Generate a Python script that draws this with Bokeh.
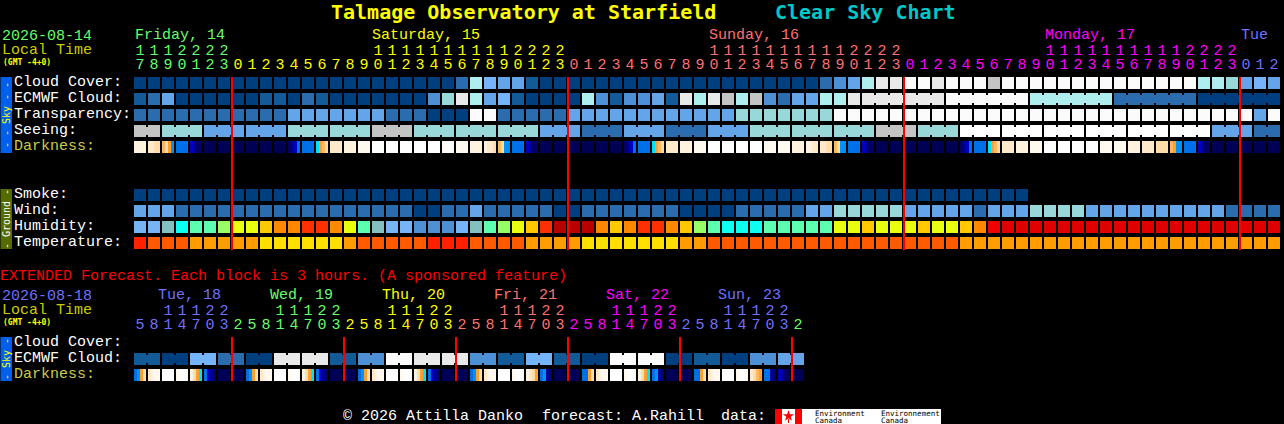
from bokeh.plotting import figure
from bokeh.models import ColumnDataSource, Range1d
from bokeh.core.properties import value
from bokeh.embed import file_html
from bokeh.resources import INLINE
import math

# ---------- data ----------
TITLE = "Talmage Observatory at Starfield"
SUBTITLE = "Clear Sky Chart"
HOURS_START = [17, 0, 0, 0, 0]
HOURS_COUNT = [7, 24, 24, 24, 3]
DAY_NAMES = ["Friday, 14", "Saturday, 15", "Sunday, 16", "Monday, 17", "Tue"]
DAY_NAME_COLS = [0, 17, 41, 65, 79]

EXT_DAY_NAMES = ["Tue, 18", "Wed, 19", "Thu, 20", "Fri, 21", "Sat, 22", "Sun, 23"]
EXT_HOURS = [5, 8, 11, 14, 17, 20, 23,
             2, 5, 8, 11, 14, 17, 20, 23,
             2, 5, 8, 11, 14, 17, 20, 23,
             2, 5, 8, 11, 14, 17, 20, 23,
             2, 5, 8, 11, 14, 17, 20, 23,
             2, 5, 8, 11, 14, 17, 20, 23,
             2]
EXT_DAY_OF_COL = [0]*7 + [1]*8 + [2]*8 + [3]*8 + [4]*8 + [5]*8 + [6]

cloud_cover = [0,0,0,0,0,0,0,0,0,0,0,0,0,0,0,0,0,0,0,0,0,0,0,2,7,5,4,4,1,0,0,0,0,0,0,0,0,0,0,0,0,
               0,0,0,0,0,0,0,0,2,3,4,7,9,9,10,10,9,10,10,10,8,10,10,10,10,10,10,10,10,10,10,10,10,10,10,7,7,6,4,5,4]
ecmwf_cloud = [1,2,4,0,0,0,0,0,0,1,1,0,2,1,0,0,0,0,0,0,0,3,6,9,7,4,5,1,0,0,0,0,7,3,1,3,3,4,1,9,7,
               9,8,7,8,3,2,4,4,7,7,9,9,9,9,9,9,9,10,10,10,10,10,10,7,7,7,7,7,7,2,2,2,2,2,2,0,0,0,0,0,0]
ecmwf_bridged_from = [52]
ecmwf_group_len = [6]
transparency = [2,2,2,2,2,2,2,2,2,2,2,4,4,4,4,4,4,4,2,2,2,0,0,0,10,10,2,2,2,2,2,4,4,4,4,4,4,4,4,4,4,
                4,4,6,6,6,6,6,6,6,10,10,10,10,10,10,10,10,10,10,10,10,10,10,10,10,10,10,10,10,10,10,10,10,10,10,10,10,10,10,4,10]
seeing_group_lengths = [2,3,3,3,3,3,3,3,3,3,3,3,3,3,3,3,3,3,3,3,3,3,3,3,3,3,3,2]
seeing_group_levels = [8,6,4,4,6,6,8,6,6,6,4,2,4,2,4,6,6,6,8,6,10,10,10,10,10,10,4,2]
darkness = ["bbbb","ccdd","edfB","LLLL","MNDD","KKKK","KKKK","KKKK","KKKK","KKKK","KKKK","DNML","LLLL","Cfed",
            "cccc","bbbb","aaaa","WWWW","WWWW","WWWW","WWWW","WWWW","aWWa","aaaa","bbbb","bccd","edBB","LLLL",
            "MNDD","KKKK","KKKK","KKKK","KKKK","KKKK","KKKK","DNML","LLLL","Cfed","cccc","bbbb","aaaa","WWWW",
            "WWWW","WWWW","WWWW","aaaa","aaaa","bbbb","bbcc","ccdd","edBB","LLLL","MNDD","KKKK","KKKK","KKKK",
            "KKKK","KKKK","KKKK","DNML","LLLL","Cfed","cccc","bbbb","aaaa","WWWW","WWWW","WWWW","WWWW","aaaa",
            "aaaa","bbbb","cccc","dddd","efBB","LLLL","MNDD","KKKK","KKKK","KKKK","KKKK","KKKK"]
smoke = [0,0,0,0,0,0,0,0,0,0,0,0,0,0,0,0,0,0,0,0,0,0,0,0,0,0,0,0,0,0,0,0,
         0,0,0,0,0,0,0,0,0,0,0,0,0,0,0,0,0,0,0,0,0,0,0,0,0,0,0,0,0,0,0,0]
wind = [4,4,4,2,2,2,2,2,2,2,2,2,2,2,2,2,2,2,2,2,0,0,2,2,4,2,2,2,2,2,0,0,2,2,2,2,2,2,2,0,0,
        0,0,2,2,2,2,2,4,4,6,6,6,6,6,4,4,4,4,4,2,4,4,4,6,6,6,6,4,4,4,4,4,4,4,4,4,4,2,2,2,2]
humidity = ["h1","h1","h2","h3","h4","h4","h5","h6","h6","h7","h8","h8","h9","h9","h8","h6","h4","h2","h1","h1",
            "h0","h0","h0","h1","h2","h4","h5","h6","h7","h9","hB","hB","hB","h8","h7","h8","h9","h9","h8","h7",
            "h5","h4","h3","h3","h3","h4","h4","h4","h4","h4","h6","h6","h7","h6","h6","h6","h7","h6","h6","h7",
            "h8","hA","hC","hC","hC","hC","hC","hC","hC","hC","hC","hC","hC","hC","hC","hC","hC","hC","hC","hC","hC","hC"]
temperature = ["t0","t1","t1","t1","t2","t2","t2","t2","t2","t3","t3","t3","t3","t3","t3","t2","t1","t1","t1","t1","t1",
               "t0","t0","t0","t1","t1","t1","t1","t2","t2","t2","t2","t3","t3","t3","t3","t3","t3","t3","t2","t2",
               "t1","t1","t1","t1","t1","t1","t1","t1","t1","t1","t1","t1","t1","t1","t1","t1","t1","t1","t2","t2",
               "t2","t2","t2","t2","t2","t2","t2","t2","t2","t2","t2","t2","t2","t2","t2","t2","t2","t2","t2","t2","t2"]
ext_ecmwf_pairs = [1,0,5,2,0,9,9,1,3,10,9,9,3,1,5,1,0,10,10,0,1,0,3,4]
ext_darkness = ["LBfd","cbaa","WWWW","aWWa","bdfC","LMND","KKKK","KKKK",
                "LBfd","cbaa","WWWW","aWWa","bdfC","LMND","KKKK","DKKK",
                "LBfd","cbaa","WWWW","aWWa","bdfC","LMND","KKKK","KKKK",
                "LBfd","cbaa","WWWW","aWWa","bcdf","LBND","KKKK","KKKK",
                "LLfd","cbaa","WWWW","aWWa","bdfC","LBND","KKKK","KKKK",
                "LLfd","cbaa","WWWW","aWWa","cdef","LLND","MNDK","KKKK"]

# ---------- styles ----------
CLOUD = {0:"#003f7f",1:"#135a98",2:"#2b6cae",3:"#4d90d5",4:"#63a5e8",5:"#76b4fa",6:"#98d8d8",
         7:"#aeeeee",8:"#c4c4c4",9:"#e9e9e9",10:"#fbfbfb"}
DARK = {"W":"#ffffff","a":"#fff9ef","b":"#fff2de","c":"#ffe9ca","d":"#ffdca8","e":"#ffb860","f":"#ff9f30",
        "C":"#00e0ff","B":"#0092f4","L":"#0070e8","M":"#0000c4","N":"#000096","D":"#000068","K":"#000054"}
HUM = {"h0":"#4f90d5","h1":"#76b4f5","h2":"#85c0c0","h3":"#0cfff0","h4":"#5cffb0","h5":"#99ff66","h6":"#e8ff10",
       "h7":"#ffc800","h8":"#ff8800","h9":"#ff3000","hA":"#f00000","hB":"#b80000","hC":"#e00000"}
TEMP = {"t0":"#ff2000","t1":"#ff5a00","t2":"#ff9c00","t3":"#ffdf00"}
DAY_COL = ["#66ff66", "#ffff00", "#ff7070", "#ff00ff", "#7070ff"]
EXT_DAY_COL = ["#7070ff", "#66ff66", "#ffff00", "#ff7070", "#ff00ff", "#7070ff", "#66ff66"]
LT = "#cccc00"
MONO = "DejaVu Sans Mono"
BODY = "Liberation Mono"

X0, PITCH, BLOCK = 134, 14, 12
W, H = 1284, 424
TOPS = {"cloud":77,"ecmwf":93,"trans":109,"seeing":125,"dark":141,"smoke":189,"wind":205,"hum":221,"temp":237,
        "xcloud":337,"xecmwf":353,"xdark":369}

# half-pixel offset of the range cancels the half-pixel translate of the drawing context
p = figure(width=W, height=H, output_backend="svg", toolbar_location=None,
           x_range=Range1d(0.5, W+0.5), y_range=Range1d(H+0.5, 0.5), x_axis_type=None, y_axis_type=None,
           background_fill_color="#000000", border_fill_color="#000000", min_border=0,
           outline_line_color=None)
p.grid.visible = False
p.styles = {"position": "fixed", "left": "0px", "top": "0px", "background-color": "#000000"}

L, R, T, B, C = [], [], [], [], []
def rect(l, r, t, b, c):
    L.append(l); R.append(r); T.append(t); B.append(b); C.append(c)

def blocks(cols, top):
    for i, c in enumerate(cols):
        rect(X0+PITCH*i, X0+PITCH*i+BLOCK, top, top+BLOCK, c)

def bridges(start, lengths, top, colours):
    i = start
    for n, c in zip(lengths, colours):
        for k in range(n-1):
            rect(X0+PITCH*(i+k)+BLOCK, X0+PITCH*(i+k+1), top+2, top+BLOCK-2, c)
        i += n

def strips(codes, top):
    for i, s in enumerate(codes):
        w = BLOCK/len(s)
        for k, ch in enumerate(s):
            x = X0+PITCH*i+k*w
            rect(x, x+w, top, top+BLOCK, DARK[ch])

# side panels
rect(0, 12, TOPS["cloud"], TOPS["dark"]+BLOCK, "#0060ec")
rect(0, 12, TOPS["smoke"], TOPS["temp"]+BLOCK, "#556b00")
rect(0, 12, TOPS["xcloud"], TOPS["xdark"]+BLOCK, "#0060ec")

blocks([CLOUD[v] for v in cloud_cover], TOPS["cloud"])
blocks([CLOUD[v] for v in ecmwf_cloud], TOPS["ecmwf"])
_n = (len(ecmwf_cloud)-ecmwf_bridged_from[0])//ecmwf_group_len[0]
bridges(ecmwf_bridged_from[0], ecmwf_group_len*_n, TOPS["ecmwf"],
        [CLOUD[ecmwf_cloud[ecmwf_bridged_from[0]+j*ecmwf_group_len[0]]] for j in range(_n)])
blocks([CLOUD[v] for v in transparency], TOPS["trans"])
seeing_cols = []
for n, lv in zip(seeing_group_lengths, seeing_group_levels):
    seeing_cols += [CLOUD[lv] if lv != 10 else "#ffffff"]*n
blocks(seeing_cols, TOPS["seeing"])
bridges(0, seeing_group_lengths, TOPS["seeing"],
        [CLOUD[v] if v != 10 else "#ffffff" for v in seeing_group_levels])
strips(darkness, TOPS["dark"])
blocks([CLOUD[v] for v in smoke], TOPS["smoke"])
blocks([CLOUD[v] for v in wind], TOPS["wind"])
blocks([HUM[v] for v in humidity], TOPS["hum"])
blocks([TEMP[v] for v in temperature], TOPS["temp"])

ext_cols = []
for v in ext_ecmwf_pairs:
    ext_cols += [CLOUD[v], CLOUD[v]]
blocks(ext_cols, TOPS["xecmwf"])
bridges(0, [2]*len(ext_ecmwf_pairs), TOPS["xecmwf"], [CLOUD[v] for v in ext_ecmwf_pairs])
strips(ext_darkness, TOPS["xdark"])

# logo
rect(775, 941, 409, 424, "#ffffff")
rect(775, 782, 409, 424, "#ff0000")
rect(795, 802, 409, 424, "#ff0000")
rect(788, 789, 419, 423, "#ff0000")

p.quad(left="l", right="r", top="t", bottom="b", fill_color="c", line_color=None, line_width=0,
       source=ColumnDataSource(dict(l=L, r=R, t=T, b=B, c=C)))
p.scatter([788.5], [416], marker="star", size=12, fill_color="#ff0000", line_color=None)

# midnight lines
MAIN_MIDNIGHTS = [7, 31, 55, 79]
EXT_MIDNIGHTS = [7, 15, 23, 31, 39, 47]
p.quad(left=[X0+PITCH*c-1 for c in MAIN_MIDNIGHTS], right=[X0+PITCH*c+1 for c in MAIN_MIDNIGHTS],
       top=[TOPS["cloud"]]*4, bottom=[TOPS["temp"]+BLOCK+1]*4, fill_color="#ff0000", line_color=None)
p.quad(left=[X0+PITCH*c-1 for c in EXT_MIDNIGHTS], right=[X0+PITCH*c+1 for c in EXT_MIDNIGHTS],
       top=[TOPS["xcloud"]]*6, bottom=[TOPS["xdark"]+BLOCK]*6, fill_color="#ff0000", line_color=None)

def text(xs, ys, ts, cs, size="15px", style="normal", align="left", angle=0.0, font=BODY):
    p.text(x="x", y="y", text="t", text_color="c", text_font=value(font), text_font_size=size,
           text_font_style=style, text_align=align, text_baseline="middle", angle=angle,
           source=ColumnDataSource(dict(x=xs, y=ys, t=ts, c=cs)))

# title
text([331, 775], [12, 12], [TITLE, SUBTITLE], ["#ffff00", "#00c8c8"], size="20px", style="bold", font=MONO)

# main headers
day_labels = [(X0+PITCH*c+1) for c in DAY_NAME_COLS]
day_labels[-1] = 1241
day_labels[1] = 372
text(day_labels, [35]*5, DAY_NAMES, DAY_COL)
text([2], [35], ["2026-08-14"], [DAY_COL[0]])
text([2], [50], ["Local Time"], [LT])
text([3], [62], ["(GMT -4+0)"], ["#ffff00"], size="8px", style="bold", font=MONO)
tx, ty, tt, tc = [], [], [], []
col = 0
for d, (start, cnt) in enumerate(zip(HOURS_START, HOURS_COUNT)):
    for k in range(cnt):
        h = start+k
        cx = X0+PITCH*col+6
        if h >= 10:
            tx.append(cx); ty.append(50); tt.append(str(h//10)); tc.append(DAY_COL[d])
        tx.append(cx); ty.append(64); tt.append(str(h%10)); tc.append(DAY_COL[d])
        col += 1
text(tx, ty, tt, tc, align="center")

# row labels
ROW_LABELS = ["Cloud Cover:", "ECMWF Cloud:", "Transparency:", "Seeing:", "Darkness:",
              "Smoke:", "Wind:", "Humidity:", "Temperature:"]
ROW_KEYS = ["cloud", "ecmwf", "trans", "seeing", "dark", "smoke", "wind", "hum", "temp"]
text([14]*9, [TOPS[k]+5 for k in ROW_KEYS], ROW_LABELS,
     ["#cccc44" if k == "dark" else "#ffffff" for k in ROW_KEYS])
X_LABELS = ["Cloud Cover:", "ECMWF Cloud:", "Darkness:"]
text([14]*3, [TOPS["xcloud"]+5, TOPS["xecmwf"]+5, TOPS["xdark"]+5], X_LABELS, ["#ffffff", "#ffffff", "#cccc44"])

# side panel labels
text([6], [115], ["- - Sky - -"], ["#ffff00"], size="10px", align="center", angle=math.pi/2, font=MONO)
text([6], [219], ["- Ground -"], ["#ffffff"], size="10px", align="center", angle=math.pi/2, font=MONO)
text([6], [359], ["- Sky -"], ["#ffff00"], size="10px", align="center", angle=math.pi/2, font=MONO)

# extended forecast
text([0], [276], ["EXTENDED Forecast. Each block is 3 hours. (A sponsored feature)"], ["#ff0000"])
text([2], [295], ["2026-08-18"], [EXT_DAY_COL[0]])
text([2], [310], ["Local Time"], [LT])
text([3], [322], ["(GMT -4+0)"], ["#ffff00"], size="8px", style="bold", font=MONO)
text([158+112*i for i in range(6)], [295]*6, EXT_DAY_NAMES, EXT_DAY_COL[:6])
tx, ty, tt, tc = [], [], [], []
for i, (h, d) in enumerate(zip(EXT_HOURS, EXT_DAY_OF_COL)):
    cx = X0+PITCH*i+6
    if h >= 10:
        tx.append(cx); ty.append(310); tt.append(str(h//10)); tc.append(EXT_DAY_COL[d])
    tx.append(cx); ty.append(324); tt.append(str(h%10)); tc.append(EXT_DAY_COL[d])
text(tx, ty, tt, tc, align="center")

# footer
text([343, 542, 721], [416]*3, ["© 2026 Attilla Danko", "forecast: A.Rahill", "data:"], ["#ffffff"]*3)
text([815, 881], [413.5, 413.5], ["Environment", "Environnement"], ["#000000"]*2, size="7.5px", font=MONO)
text([815, 881], [420, 420], ["Canada", "Canada"], ["#000000"]*2, size="7.5px", font=MONO)

open("out.html", "w").write(file_html(p, INLINE))
